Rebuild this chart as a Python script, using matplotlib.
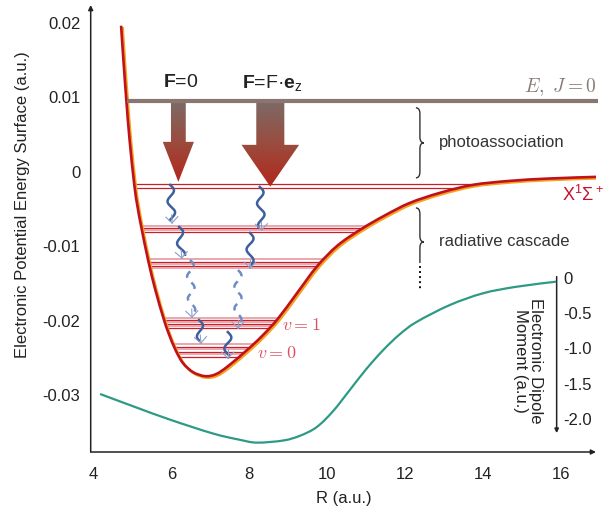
import numpy as np
import matplotlib
matplotlib.use('Agg')
import matplotlib.pyplot as plt
from matplotlib.path import Path
from matplotlib.patches import Polygon, PathPatch
from matplotlib.colors import LinearSegmentedColormap
import matplotlib.transforms as mtransforms

plt.rcParams['font.family'] = ['Liberation Sans', 'DejaVu Sans']
plt.rcParams['mathtext.fontset'] = 'custom'
plt.rcParams['mathtext.rm'] = 'Liberation Sans'
plt.rcParams['mathtext.bf'] = 'Liberation Sans:bold'
plt.rcParams['mathtext.it'] = 'Liberation Sans:italic'

# ---------------- data ----------------
pes_R = [4.710, 4.769, 4.846, 4.928, 5.049, 5.133, 5.223, 5.403, 5.590, 5.797,
         5.928, 6.108, 6.300, 6.556, 6.864, 7.146, 7.454, 7.941, 8.326, 8.736,
         9.223, 9.736, 10.274, 10.890, 11.479, 12.120, 12.890, 13.736, 14.685,
         15.710, 16.915]
pes_E = [0.01962, 0.01505, 0.00954, 0.00430, -0.00175, -0.00470, -0.00726,
         -0.01183, -0.01586, -0.01962, -0.02164, -0.02392, -0.02567, -0.02688,
         -0.02742, -0.02715, -0.02608, -0.02392, -0.02204, -0.01970, -0.01629,
         -0.01270, -0.00985, -0.00763, -0.00585, -0.00417, -0.00282, -0.00175,
         -0.00121, -0.00089, -0.00067]

dip_R = [4.17, 5.07, 5.97, 7.07, 7.76, 8.2, 8.87, 9.30, 9.73, 10.15, 10.58,
         11.0, 11.44, 11.86, 12.29, 13.15, 14.0, 14.86, 15.88]
dip_D = [-1.645, -1.83, -2.01, -2.206, -2.295, -2.335, -2.305, -2.238, -2.115, -1.889,
         -1.589, -1.294, -1.021, -0.800, -0.625, -0.383, -0.217, -0.124, -0.052]

E_J0 = 0.0095
threshold_levels = [-0.00161, -0.00211]
level_groups = [
    [-0.00726, -0.00753, -0.00780, -0.00806],
    [-0.01173, -0.01206, -0.01237, -0.01266, -0.01296],
    [-0.01962, -0.01989, -0.02016, -0.02043, -0.02070, -0.02097],
    [-0.02312, -0.02345, -0.02379, -0.02413, -0.02446, -0.02480],
]

x_ticks = [4, 6, 8, 10, 12, 14, 16]
y_ticks = [-0.03, -0.02, -0.01, 0, 0.01, 0.02]
y_ticklabels = ['-0.03', '-0.02', '-0.01', '0', '0.01', '0.02']
dip_ticks = [0, -0.5, -1.0, -1.5, -2.0]
dip_ticklabels = ['0', '-0.5', '-1.0', '-1.5', '-2.0']
dip_axis_R = 15.89

# photoassociation arrows: centre R, shaft half width, head half width, head start E, tip E
pa_center = [6.18, 8.54]
pa_shaft = [0.19, 0.36]
pa_head = [0.40, 0.74]
pa_head_E = [0.00403, 0.00363]
pa_tip_E = [-0.00134, -0.00198]
pa_labels = [r'$\mathbf{F}$=0', r'$\mathbf{F}$=F·$\mathbf{e}_\mathrm{z}$']

# cascade transitions: R0, E0, R1, E1, dashed
cascade = [
    (5.97, -0.00175, 6.02, -0.00685, False),
    (6.20, -0.00739, 6.27, -0.01156, False),
    (6.48, -0.01183, 6.53, -0.01949, True),
    (6.71, -0.01989, 6.76, -0.02298, False),
    (8.27, -0.00202, 8.32, -0.00780, False),
    (8.02, -0.00820, 8.02, -0.01290, False),
    (7.71, -0.01317, 7.71, -0.02097, True),
    (7.45, -0.02150, 7.45, -0.02500, False),
]


def smooth_path(x, y, extra=None):
    """Smooth Bezier path through the given points (drawing only)."""
    P = np.column_stack([x, y]).astype(float)
    verts = [P[0]]
    codes = [Path.MOVETO]
    n = len(P)
    for i in range(n - 1):
        p0 = P[i - 1] if i > 0 else P[i]
        p1 = P[i]
        p2 = P[i + 1]
        p3 = P[i + 2] if i + 2 < n else P[i + 1]
        verts += [p1 + (p2 - p0) / 6.0, p2 - (p3 - p1) / 6.0, p2]
        codes += [Path.CURVE4] * 3
    if extra is not None:
        for e in extra:
            verts.append(e)
            codes.append(Path.LINETO)
        verts.append(P[0])
        codes.append(Path.CLOSEPOLY)
    return Path(np.array(verts), codes)


# ---------------- figure ----------------
W, H = 613, 512
fig = plt.figure(figsize=(W / 100, H / 100), dpi=100)
ax = fig.add_axes([90.7 / W, (H - 452) / H, (596 - 90.7) / W, (452 - 5) / H])
XL = (3.93, 16.9)
YL = (-0.0376, 0.0224)
ax.set_xlim(*XL)
ax.set_ylim(*YL)
for s in ax.spines.values():
    s.set_visible(False)
ax.set_xticks(x_ticks)
ax.set_xticklabels([str(t) for t in x_ticks])
ax.set_yticks(y_ticks)
ax.set_yticklabels(y_ticklabels)
ax.tick_params(axis='both', length=0, labelsize=12, colors='#222222')
ax.tick_params(axis='x', pad=11)
ax.tick_params(axis='y', pad=7.5)

axis_col = '#222222'
ax.annotate('', xy=(1.0, 0), xytext=(0, 0), xycoords='axes fraction',
            arrowprops=dict(arrowstyle='-|>', lw=1.1, color=axis_col,
                            mutation_scale=7, shrinkA=0, shrinkB=0), annotation_clip=False)
ax.annotate('', xy=(0, 1.0), xytext=(0, 0), xycoords='axes fraction',
            arrowprops=dict(arrowstyle='-|>', lw=1.1, color=axis_col,
                            mutation_scale=7, shrinkA=0, shrinkB=0), annotation_clip=False)

ax.text(-0.134, 0.553, 'Electronic Potential Energy Surface (a.u.)', transform=ax.transAxes,
        rotation=90, ha='center', va='center', fontsize=12, color='#222222')
ax.text(0.5, -0.103, 'R (a.u.)', transform=ax.transAxes, ha='center', va='center',
        fontsize=12, color='#222222')

# vibrational levels clipped to the potential well
clip_path = smooth_path(pes_R, pes_E, extra=[(16.95, pes_E[-1]), (16.95, 0.03), (4.71, 0.03)])
clip_patch = PathPatch(clip_path, transform=ax.transData)
red_lvl = '#c8202a'
pink_lvl = '#e8a0a6'
lc = ax.hlines(threshold_levels, 4.0, 16.95, colors=red_lvl, lw=0.9, zorder=3)
lc.set_clip_path(clip_patch)
for grp in level_groups:
    cols = [pink_lvl if i % 2 == 0 else red_lvl for i in range(len(grp))]
    lws = [1.3 if i % 2 == 0 else 0.9 for i in range(len(grp))]
    lc = ax.hlines(grp, 4.0, 16.95, colors=cols, lw=lws, zorder=3)
    lc.set_clip_path(clip_patch)

# potential curve (orange edge offset + red)
pes_path = smooth_path(pes_R, pes_E)
off = mtransforms.ScaledTranslation(1.4 / 100, -1.4 / 100, fig.dpi_scale_trans)
ax.add_patch(PathPatch(pes_path, facecolor='none', edgecolor='#f5a21c', lw=2.0,
                       transform=ax.transData + off, zorder=5, capstyle='butt'))
ax.add_patch(PathPatch(pes_path, facecolor='none', edgecolor='#c0121c', lw=1.9,
                       transform=ax.transData, zorder=6, capstyle='butt'))

# E, J=0 line
ax.hlines(E_J0, 4.87, 16.95, color='#8a7670', lw=3.0, zorder=7, clip_on=False)
ax.text(16.92, 0.01142, r'$E,\ J=0$', math_fontfamily='cm', ha='right', va='center',
        fontsize=14, color='#8a7b75')

# gradient arrows
cmap = LinearSegmentedColormap.from_list('pa', ['#7c6a67', '#9a4c3e', '#b3261c'])
grad = np.linspace(0, 1, 256).reshape(-1, 1)
for c, sw, hw, he, te, lab in zip(pa_center, pa_shaft, pa_head, pa_head_E, pa_tip_E, pa_labels):
    verts = [(c - sw, E_J0), (c + sw, E_J0), (c + sw, he), (c + hw, he), (c, te),
             (c - hw, he), (c - sw, he)]
    patch = Polygon(verts, closed=True, facecolor='none', edgecolor='none',
                    transform=ax.transData)
    im = ax.imshow(grad, extent=[c - hw, c + hw, te, E_J0], aspect='auto', cmap=cmap,
                   origin='upper', zorder=4, interpolation='bilinear')
    im.set_clip_path(patch)
    ax.text(c + 0.05, 0.01196, lab, ha='center', va='center', fontsize=14, color='#222222')

# cascade wavy arrows
ax.set_xlim(*XL)
ax.set_ylim(*YL)
inv = ax.transData.inverted()
for R0, E0, R1, E1, dashed in cascade:
    p0 = ax.transData.transform((R0, E0))
    p1 = ax.transData.transform((R1, E1))
    d = p1 - p0
    L = np.hypot(*d)
    u = d / L
    n = np.array([-u[1], u[0]])
    s = np.linspace(0, L - 3, 200)
    pts = p0 + np.outer(s, u) + np.outer(3.5 * np.sin(2 * np.pi * s / 22.0), n)
    dd = inv.transform(pts)
    if dashed:
        ax.plot(dd[:, 0], dd[:, 1], color='#6f8dc4', lw=1.8, ls=(0, (3, 2.5)), zorder=8)
    else:
        ax.plot(dd[:, 0], dd[:, 1], color='#3d5f9e', lw=1.8, zorder=8)
    for sgn, back in ((-1, 6), (1, 6), (0, 8)):
        q = p1 - u * back + n * 6 * sgn
        hh = inv.transform(np.array([q, p1]))
        ax.plot(hh[:, 0], hh[:, 1], color='#8aa0cc', lw=0.8, zorder=8)


# braces
def brace(xv, y0, y1, ym, curl_bottom=True):
    w = 4.0
    verts = [(xv - w, y0), (xv, y0), (xv, y0 - 6), (xv, ym + 6), (xv, ym), (xv + w, ym),
             (xv, ym), (xv, ym - 6), (xv, y1 + 6 if curl_bottom else y1)]
    codes = [Path.MOVETO, Path.CURVE3, Path.CURVE3, Path.LINETO, Path.CURVE3, Path.CURVE3,
             Path.CURVE3, Path.CURVE3, Path.LINETO]
    if curl_bottom:
        verts += [(xv, y1), (xv - w, y1)]
        codes += [Path.CURVE3, Path.CURVE3]
    pp = PathPatch(Path(verts, codes), facecolor='none', edgecolor='#333333', lw=1.0,
                   transform=mtransforms.IdentityTransform(), zorder=9)
    fig.add_artist(pp)


brace_R = 12.38
bx, by0 = ax.transData.transform((brace_R, 0.0086))
_, by1 = ax.transData.transform((brace_R, -0.0008))
_, bym = ax.transData.transform((brace_R, 0.0039))
brace(bx, by0, by1, bym)
_, cy0 = ax.transData.transform((brace_R, -0.00484))
_, cym = ax.transData.transform((brace_R, -0.0094))
_, cy1 = ax.transData.transform((brace_R, -0.01223))
brace(bx, cy0, cy1, cym, curl_bottom=False)
ax.plot([brace_R, brace_R], [-0.01265, -0.01590], color='#111111', lw=1.4,
        ls=(0, (1, 1.6)), zorder=9)

ax.text(12.88, 0.0039, 'photoassociation', ha='left', va='center', fontsize=12, color='#333333')
ax.text(12.88, -0.0094, 'radiative cascade', ha='left', va='center', fontsize=12, color='#333333')
ax.text(16.04, -0.0031, r'X$^1$Σ$^+$', ha='left', va='center', fontsize=13, color='#c8102e')
ax.text(8.85, -0.02056, r'$v=1$', math_fontfamily='cm', ha='left', va='center',
        fontsize=13, color='#d9525e')
ax.text(8.19, -0.02433, r'$v=0$', math_fontfamily='cm', ha='left', va='center',
        fontsize=13, color='#d9525e')

# dipole moment on twin axis
ax2 = ax.twinx()
ax2.set_ylim(-2.468, 3.872)
for s in ax2.spines.values():
    s.set_visible(False)
ax2.spines['right'].set_position(('data', dip_axis_R))
ax2.set_yticks(dip_ticks)
ax2.set_yticklabels(dip_ticklabels)
ax2.tick_params(axis='y', length=0, pad=5, labelsize=12, colors='#222222')
ax2.add_patch(PathPatch(smooth_path(dip_R, dip_D), facecolor='none', edgecolor='#2e9a86',
                        lw=1.6, transform=ax2.transData, zorder=5))
ax2.annotate('', xy=(dip_axis_R, -2.2), xytext=(dip_axis_R, 0.02),
             arrowprops=dict(arrowstyle='-|>', lw=1.1, color=axis_col, mutation_scale=6,
                             shrinkA=0, shrinkB=0))
ax.text(15.15, -0.0254, 'Electronic Dipole\nMoment (a.u.)', rotation=270, ha='center',
        va='center', multialignment='center', fontsize=12, linespacing=1.0, color='#222222')

ax.set_xlim(*XL)
ax.set_ylim(*YL)
ax2.set_ylim(-2.468, 3.872)
fig.savefig('out.png', dpi=100)
